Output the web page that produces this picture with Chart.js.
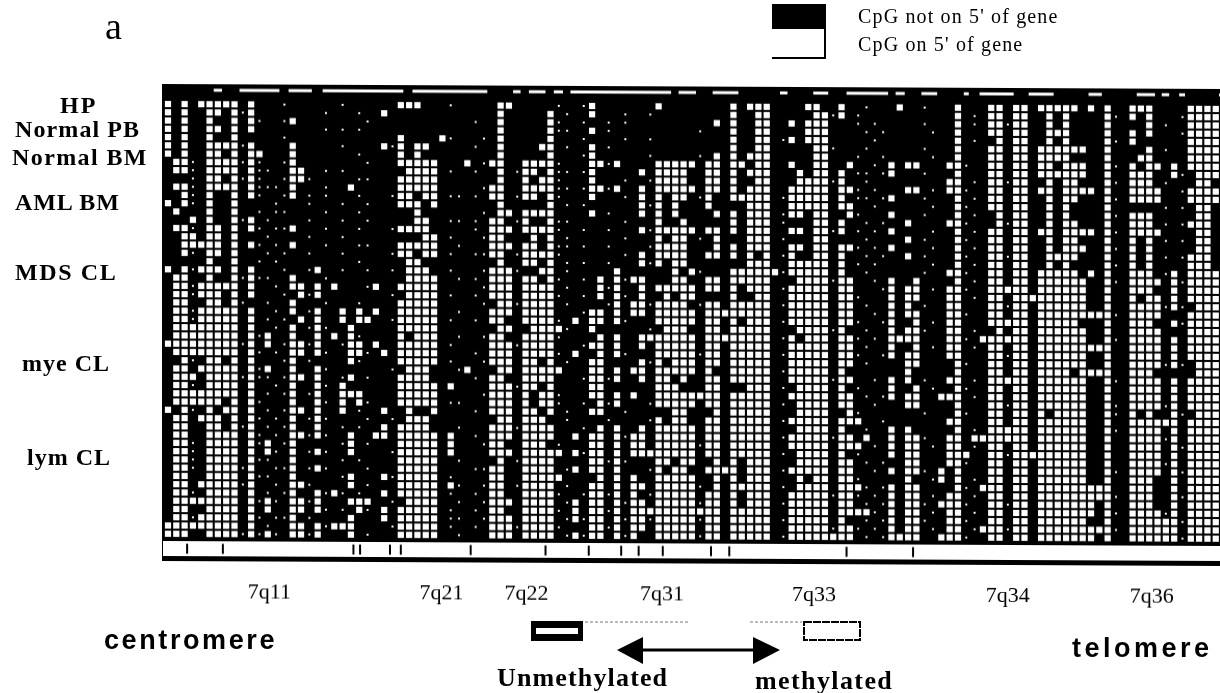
<!DOCTYPE html>
<html>
<head>
<meta charset="utf-8">
<title>7q CpG methylation map</title>
<script src="https://cdn.jsdelivr.net/npm/chart.js@4"></script>
<style>
  html, body { margin: 0; background: #fff; }
  #page { position: relative; width: 1220px; height: 693px; overflow: hidden; font-family: "Liberation Serif", serif; color: #000; }
  #map { position: absolute; left: 0; top: 0; transform-origin: 162px 84px; transform: skewY(0.27deg); }
  .t { position: absolute; white-space: nowrap; line-height: 1; }
  .row-label { font-weight: bold; font-size: 24px; }
  .sans { font-family: "Liberation Sans", sans-serif; font-weight: bold; font-size: 27px; letter-spacing: 2.6px; }
  .sw { position: absolute; box-sizing: border-box; }
</style>
</head>
<body>
<div id="page">
  <!-- 9px wider than the page: the x axis keeps that much room for its last label -->
  <canvas id="map" width="1229" height="693"></canvas>

  <span class="t" style="left:105px;top:7px;font-size:38px">a</span>
  <div class="sw" style="left:772px;top:4px;width:54px;height:25px;background:#000"></div>
  <div class="sw" style="left:772px;top:29px;width:54px;height:30px;border-right:2px solid #000;border-bottom:2px solid #000"></div>
  <span class="t" style="left:858px;top:6px;font-size:20px;letter-spacing:1.15px">CpG not on 5' of gene</span>
  <span class="t" style="left:858px;top:34px;font-size:20px;letter-spacing:1.15px">CpG on 5' of gene</span>

  <span class="t row-label" style="left:60px;top:93px;letter-spacing:2px">HP</span>
  <span class="t row-label" style="left:15px;top:117px;letter-spacing:1.1px">Normal PB</span>
  <span class="t row-label" style="left:12px;top:145px;letter-spacing:1.4px">Normal BM</span>
  <span class="t row-label" style="left:15px;top:190px;letter-spacing:.9px">AML BM</span>
  <span class="t row-label" style="left:15px;top:260px;letter-spacing:1.6px">MDS CL</span>
  <span class="t row-label" style="left:22px;top:351px;letter-spacing:1px">mye CL</span>
  <span class="t row-label" style="left:27px;top:445px;letter-spacing:1px">lym CL</span>

  <span class="t sans" style="left:104px;top:627px">centromere</span>
  <span class="t sans" style="left:1072px;top:635px;letter-spacing:3.5px">telomere</span>

  <svg style="position:absolute;left:520px;top:610px" width="360" height="60">
    <rect x="11" y="11" width="52" height="20" fill="#000"/>
    <rect x="16" y="18" width="42" height="6" fill="#fff"/>
    <line x1="65" y1="12" x2="170" y2="12" stroke="#777" stroke-width="1" stroke-dasharray="3 2"/>
    <line x1="230" y1="12" x2="282" y2="12" stroke="#777" stroke-width="1" stroke-dasharray="3 2"/>
    <rect x="284" y="12" width="56" height="18" fill="none" stroke="#000" stroke-width="2" stroke-dasharray="8 1"/>
    <line x1="120" y1="40" x2="235" y2="40" stroke="#000" stroke-width="3"/>
    <path d="M97 40 L123 27 L123 54 Z" fill="#000"/>
    <path d="M260 40 L233 27 L233 54 Z" fill="#000"/>
  </svg>
  <span class="t" style="left:497px;top:665px;font-size:26px;font-weight:bold;letter-spacing:1.15px">Unmethylated</span>
  <span class="t" style="left:755px;top:668px;font-size:26px;font-weight:bold;letter-spacing:1.4px">methylated</span>
</div>

<script>
// white cells per row: column numbers, "a-b" is a run of columns
const hpRows = [
  "0 2 4-8 10 28-30 40 41 51 59 68 70-72 77 78 81 88 95 99 100 102 103 105-109 111 113 116-118 123-126",
];
const normalPbRows = [
  "0 2 5 6 8 10 26 40 46 51 68 71 72 78 79 81 95 99 100 102 103 106 108 113 116 118 123-126",
  "0 2 5 8 10 15 40 46 66 68 71 72 75 77-79 95 99 100 102 103 106 108 113 118 123-126",
  "0 2 5 6 8 10 40 46 51 68 71 72 77-79 95 99 100 102 103 106-108 113 116 118 123-126",
];
const normalBmRows = [
  "0 2 5 8 28 33 40 46 68 71 72 75 77-79 95 100 102 103 106 108 113 116 123-126",
  "0 2 5-8 10 15 26 28 30 31 40 45 46 51 68 71 72 78 79 95 99 100 102 103 105-110 113 118 123-126",
  "0 2 5 6 8 10 11 15 28 30 40 46 51 66 68 70-72 78 79 95 99 100 102 103 105-108 113 117 118 123-126",
];
const amlRows = [
  "1 2 5-8 10 15 28-32 36 39 40 43-46 51 52 54 59-63 65 66 68 69 71 72 75 78 79 82 87 89 90 94 95 99 100 102 103 105 106 108-110 113 116 118 119 121 123-126",
  "1 2 5-8 10 15 16 29-32 40 43 44 46 51 57 59-62 65 66 68 70-72 76 78 79 81 87 95 99 100 102 103 105-110 113 116-118 121 124-126",
  "5 6 8 10 15 16 28-32 40 43 45 46 51 59-62 65 66 68 71 72 76-79 81 94 95 99 100 102 103 106 108 109 113 116-118 124 125",
  "1 2 5-8 10 15 22 28-32 39 40 43-46 51 52 54 57 59-63 65 66 68 70-72 75-79 81 82 89 90 94 95 99 100 102 103 105 106 108-111 113 116-119 123-126",
  "2 5 8 10 15 28 29 31 32 39 40 43 44 46 51 57 59 61 62 65 68-72 75-79 81 87 95 99 100 102 103 106 108 109 113 116-119 123-126",
  "0 2 5 8 28-30 32 40 46 57 59 61 65 70-72 75-79 81 82 95 99 100 102 103 106 108 113 124 125",
  "1 5 8 30 40 41 43-46 51 57 59 61 66 68 70-72 75 76 78 79 82 87 95 100 102 103 106 108 113 116-118 124 125",
  "3 5 8 10 30 31 39 40 43 46 59 62 68 70-72 78 79 81 89 94 95 100 102 103 106 108 109 113 116-118 123-125",
  "1 2 5 6 8 10 15 28-31 39-41 43-46 57 59-63 65 66 68 70-72 75 76 78 79 81 87 95 99 100 102 103 105 106 108-111 113 116-119 124 125",
  "2 3 5 6 8 31 32 39 40 44 46 59 61 62 66 70-72 78 79 89 95 99 100 102 103 106 108 109 113 116 118 124 125",
  "2-6 8 10 15 28-32 39-41 43 44 46 59-62 66 68 70-72 75 76 78 79 81 82 87 95 99 100 102 103 106 108-110 113 116 118 124 125",
  "2 5 6 8 28 29 31 32 39 40 43-46 57 59-62 65 66 68 70 72 75 78 79 81 89 95 99 100 102 103 106-109 113 116 118 123-125",
  "5 8 29 30 40 43 44 46 57 59 61 62 70-72 75-79 81 95 99 100 102 103 106 108 113 116 118 123-125",
];
const mdsRows = [
  "0 2 4-6 8 10 18 29-31 39-41 45 46 54 61 63 68-73 75-79 81 94 95 99 100 102 103 105-109 111 113 116-118 121 123-126",
  "1 2 5 8 10 15 29-32 39-41 43 44 46 52 54 56 57 61 62 65 66 68-72 76-79 81 82 87 90 95 99 100 102 103 105-110 113 116-119 121 123-126",
  "1 2 4-8 10 15 16 18 20 25 28-32 39-41 43-46 52 54 57 59-63 65 66 68 70-72 75-79 81 82 87 89 90 94 95 99-103 105-110 113 116-118 121 123-126",
  "1 2 4-6 8 10 16 18 29-32 39-41 43-46 52 54 57 60 62 63 68 71 72 75-79 81 82 87 89 90 94 95 99 100 102-110 113 116 118 119 121 123-126",
  "1 2 5 6 8 15 28-32 40 41 43-46 54 56 57 59-62 65 66 68-72 75-79 81 82 87 89 94 95 99 100 102 103 105-110 113 116-119 121 124-126",
  "1 2 4-8 10 15 18 21 23 25 28-32 39-41 43-46 51 52 54 56 57 59-63 65-72 75-79 81 82 87 89 90 94 95 99 100 102 103 105-113 116-119 123-126",
  "1 2 4-8 10 16 18 21 23 24 28-32 39 40 43-46 49 51 52 54 59-63 65 66 68 70-72 75-79 81 82 87 90 94 95 99-103 105-109 113 116-118 121 123-126",
  "1-8 10 15 18 22 28-32 40 41 44-47 51 60-62 65 66 68-72 76-79 81 87 89 90 94 95 100 102 103 105-110 113 116-119 123-126",
];
const myeRows = [
  "1-8 10 12 15 18 20 22 28 30-32 39 40 43-46 52 54 57-63 65-72 75 77-79 81 82 87-90 94 95 98-103 105-110 113 116-119 121 123-126",
  "0-8 10 12 15 16 18 22 23 25 28-32 39-41 43-46 51 52 54 57 59-63 65 66 68-72 75-79 81 82 87 90 94 95 99 100 102 103 105-113 116-119 121 123-126",
  "1-8 10 15 16 18 22 23 26 28-32 39-41 43-46 49 52 54 59-63 65 66 68-72 75-79 81 82 87 89 90 94 95 99 100 102 103 105-110 113 116-119 121 123-126",
  "2 5 6 8 10 15 22 28-32 39-41 43 44 46 51 52 57 59 61-63 65 66 68-72 75-79 81 82 89 90 95 99 100 102 103 105-110 113 116-119 121 124-126",
  "1 2 4-8 10 12 15 18 29-31 36 40 41 43-47 51 52 54 56 57 59-63 65 68-72 75-79 81 89 95 99 100 102 103 105-108 110-113 116-118 124-126",
  "1-3 5-8 10 15 16 18 22 28-31 39 40 43-46 51 52 54 57 59 60 62 65 66 68-72 75-79 81 82 87 89 94 95 99-103 105-110 113 116-119 121 123-126",
  "1 2 5-8 10 15 18 21 28-32 34 39-41 43 44 46 51 52 59-61 65 66 70-72 76-79 81 87 90 95 99 100 102 103 105-110 113 116-119 121 123-126",
  "1-8 10 15 18 21-23 28-32 39-41 43 45 46 51 52 54 56 59-66 68-72 75-79 81 82 87 89 90 93-95 99 100 102 103 105-110 113 116-119 121 123-126",
  "1-6 8 10 15 18 21 23 28-32 39-41 43 45 46 52 54 59-63 65 66 68-72 76-79 81 82 89 90 95 99 100 102 103 105-110 113 116-119 121 123-126",
  "0 2 5 7 8 10 15 16 18 21 26 29 32 39-41 43 44 46 51 52 61 62 66 68-72 76-79 82 95 99 100 102 103 105 107-110 113 116 118 121 124-126",
  "1 2 4-6 8 10 15 18 29-31 40 41 43-45 59 61 62 65 66 68-72 75-79 81-83 94 95 99 100 102 103 105-110 113 116-121 123-126",
];
const lymRows = [
  "1 2 5 6 8 10 15 18 26 28-31 39-41 43-46 52 54 57 59-63 65 66 68-72 76-79 81 87 89 95 99-103 105-110 113 116-119 121 123-126",
  "1 2 5-8 10 15 16 18 22 25 26 28-32 34 39-41 43-46 49 51 52 54 56 57 59-63 65 66 68-72 75-79 81 82 84 87 89 90 94 95 97-103 105-110 113 116-119 121 123-126",
  "1 2 5-8 10 12 15 22 28-32 34 39 40 43-45 51 52 54 56 57 59-63 65 66 68-72 75-79 81-83 87 89 90 94 95 99 100 102 103 105-110 113 116-119 121 123-126",
  "1 2 5-8 10 12 15 18 22 28-32 34 39-41 43-47 49 51 52 54 56-63 65 66 68-72 76-79 81 87 89 90 94-96 99 100 102-110 113 116-119 121 123-126",
  "1 2 5-8 10 15 28-32 40 43-46 51 52 54 59 60 62 63 66 68 70-72 76-79 81 82 89 90 94 95 99 100 102 103 105-110 113 116-119 121 123-126",
  "1 2 5-8 10 15 18 28-32 39 40 43-46 49 51 52 54 59 61 62 65-68 70-72 75-79 81 82 87 89 90 93 95 99 100 102 103 105-110 113 116-119 121 123-126",
  "1 2 5-8 10 15 22 26 28-32 39 40 43-47 52 54 56 59-63 66 68 70-72 76 78 79 81 82 89 93 95 99 100 102 103 105-110 113 116-118 121 123-126",
  "1 2 4-8 10 15 16 22 28-32 34 39 40 43-46 51 52 54 56 57 59-63 66 68-72 76-79 81-83 87 89 90 95 98-100 102 103 105-113 116-118 121 123-126",
  "1 2 5-8 10 15 18 20 26 28-32 39 40 43-46 51 52 54 56 59-63 65 66 68 70-72 75-79 81 82 87 89 90 94 95 99 100 102 103 105-113 116-118 121 123-126",
  "1-8 10 12 15 16 18 22-24 29-32 39-41 43-46 49 51 52 54 56 57 59-63 65 66 68 70-72 75-79 81 82 87 89 90 93-95 99 100 102 103 105-111 113 116-118 121 123-126",
  "1 2 5-8 10 12 15 16 18 23 26 28-32 39 40 43-46 49 51 52 54 56-66 68-72 75-79 81-84 87 89 90 94 95 99 100 102 103 105-111 113 116-119 121 123-126",
  "1 2 4-8 10 15 22 26 28-32 39-41 43-46 49 51 52 54 56 57 59-63 65 66 68-72 75-79 81 87 89 90 94 95 99 100 102 103 105-110 113 116-121 123-126",
  "0-8 10 15 16 18 20-22 28-32 39-41 43-46 51 52 54 56 57 59-63 65 66 68-72 75-79 81 82 87 89 90 94 95 98-100 102 103 105-113 116-121 123-126",
  "0-2 5-8 10 12 15 16 18 22 28-32 39-41 43-46 49 51 52 54 56 59-63 65 66 68-72 75-82 87-90 93-95 99 100 102 103 105-111 113 116-121 123-126",
];
// faint specks in the dark columns: column, then the rows it shows in
const speckColumns = [3, 9, 11, 12, 13, 14, 17, 19, 21, 23, 24, 27, 34, 35, 37, 38, 42, 47, 48, 50, 53, 55, 58, 64, 74, 80, 83, 84, 85, 86, 91, 92, 96, 97, 101, 114, 120, 122];
const speckRowsByColumn = [
  [7, 8, 9, 10, 11, 12, 15, 16, 17, 18, 20, 22, 23, 25, 26, 31, 33, 34, 37, 41, 42, 43, 44, 47, 50, 51],
  [1, 5, 7, 9, 14, 21, 24, 29, 33, 39, 44, 46, 52],
  [2, 7, 8, 9, 10, 11, 13, 15, 17, 19, 21, 28, 30, 32, 33, 36, 38, 40, 41, 43, 45, 48, 50, 52],
  [8, 10, 14, 16, 18, 21, 24, 26, 33, 35, 37, 39, 43, 45, 47, 49, 51],
  [10, 12, 13, 15, 17, 19, 22, 25, 27, 30, 34, 38, 40, 42, 44, 46, 48, 50, 52],
  [0, 2, 4, 7, 9, 11, 13, 15, 18, 20, 23, 26, 29, 31, 33, 35, 37, 39, 41, 44, 47, 50],
  [9, 11, 12, 14, 16, 18, 20, 23, 25, 27, 29, 31, 35, 38, 40, 42, 44, 46, 48, 50, 52],
  [1, 3, 8, 10, 11, 13, 15, 17, 21, 24, 27, 30, 32, 34, 36, 38, 40, 42, 44, 47, 49, 51],
  [0, 3, 5, 8, 12, 14, 16, 18, 20, 29, 33, 37, 39, 41, 43, 45, 47, 49],
  [1, 3, 6, 9, 11, 13, 15, 17, 19, 24, 28, 31, 37, 39, 43, 47],
  [2, 7, 9, 12, 14, 17, 20, 22, 30, 33, 36, 38, 41, 44, 46, 49, 52],
  [5, 11, 15, 18, 20, 23, 26, 32, 38, 42, 45, 48, 51],
  [0, 4, 8, 11, 14, 16, 18, 20, 23, 26, 29, 31, 36, 45, 47, 49, 50, 51],
  [11, 14, 17, 21, 25, 28, 32, 36, 39, 43, 46, 48, 50, 52],
  [2, 5, 8, 11, 14, 15, 18, 21, 23, 26, 30, 33, 37, 40, 44, 47, 49, 51],
  [4, 7, 10, 13, 16, 18, 20, 22, 24, 28, 31, 35, 41, 44, 46, 48, 50],
  [8, 11, 14, 18, 20, 24, 29, 34, 39, 43, 46, 51],
  [0, 2, 3, 7, 8, 9, 10, 11, 14, 15, 17, 18, 21, 23, 26, 28, 30, 35, 36, 41, 45, 47, 49, 51],
  [1, 3, 5, 8, 10, 12, 14, 16, 17, 19, 20, 22, 24, 27, 31, 37, 38, 44, 46, 48, 50, 52],
  [0, 2, 4, 6, 8, 10, 12, 15, 17, 19, 21, 23, 25, 29, 33, 36, 39, 42, 47, 50, 52],
  [2, 3, 5, 7, 10, 13, 15, 17, 19, 22, 24, 33, 36, 38, 43, 47, 49, 51],
  [1, 2, 4, 9, 11, 14, 16, 18, 21, 23, 26, 30, 37, 40, 43, 48, 50, 52],
  [1, 4, 6, 9, 12, 15, 17, 19, 24, 27, 31, 36, 38, 44, 47, 50],
  [3, 6, 11, 16, 20, 24, 30, 35, 41, 46, 48, 50, 52],
  [4, 11, 13, 14, 16, 18, 20, 22, 24, 26, 28, 30, 32, 34, 36, 38, 40, 42, 44, 46, 48, 50, 52],
  [1, 5, 9, 15, 21, 27, 33, 40, 47, 51],
  [1, 2, 6, 8, 10, 11, 13, 15, 17, 19, 23, 26, 28, 30, 34, 37, 42, 45, 47, 49, 51],
  [0, 3, 5, 8, 9, 11, 14, 16, 18, 20, 24, 27, 29, 31, 35, 39, 43, 46, 48, 50, 52],
  [2, 4, 7, 10, 12, 15, 17, 19, 21, 25, 28, 33, 36, 41, 44, 47, 49, 51],
  [3, 6, 8, 11, 14, 18, 22, 26, 30, 35, 38, 43, 46, 48, 50, 52],
  [0, 2, 5, 8, 11, 13, 16, 18, 20, 24, 27, 33, 37, 40, 44, 48, 50],
  [3, 6, 10, 12, 15, 17, 19, 22, 26, 29, 34, 41, 45, 47, 49, 51],
  [7, 10, 12, 14, 16, 18, 20, 22, 25, 28, 31, 34, 37, 43, 46, 48, 50, 52],
  [1, 2, 4, 9, 11, 13, 15, 17, 19, 21, 23, 27, 29, 33, 35, 39, 41, 45, 47, 49, 51],
  [2, 9, 14, 18, 24, 30, 36, 42, 48, 51],
  [1, 4, 7, 9, 11, 13, 15, 17, 19, 21, 25, 28, 33, 36, 37, 39, 44, 47, 49, 51],
  [2, 5, 9, 12, 14, 16, 18, 20, 24, 31, 36, 40, 43, 49, 52],
  [1, 3, 8, 10, 12, 14, 16, 18, 21, 24, 26, 31, 37, 41, 44, 47, 50, 52],
];
// white dashes along the top strip, column ranges
const headerRuns = [[5.5, 6.5], [8.6, 13.4], [14.5, 17.3], [18.6, 28.3], [29.4, 38.4], [41.5, 42.4], [43.4, 45.4], [46.4, 47.5], [48.4, 60.5], [61.4, 63.5], [65.5, 68.6], [73.6, 74.5], [77.6, 79.4], [81.6, 86.6], [87.5, 88.6], [90.6, 92.5], [95.7, 96.3], [97.6, 101.7], [103.5, 106.5], [110.7, 112.3], [116.5, 118.7], [119.5, 120.4], [121.6, 122.3], [126.4, 126.7]];
// dark marks on the white chromosome strip
const bandMarks = [2.3, 6.6, 22.3, 23.1, 26.7, 28, 36.4, 45.4, 50.6, 54.5, 56.6, 59.5, 65.3, 67.5, 81.6, 89.6];
const bandNames = ["7q11", "7q21", "7q22", "7q31", "7q33", "7q34", "7q36"];
const bandColumns = [12.2, 32.9, 43.1, 59.4, 77.7, 101, 118.3];

const allRows = [...hpRows, ...normalPbRows, ...normalBmRows, ...amlRows, ...mdsRows, ...myeRows, ...lymRows];

function parseRow(text) {
  const cols = [];
  text.split(" ").forEach((part) => {
    const [a, b] = part.split("-").map(Number);
    for (let c = a; c <= (b === undefined ? a : b); c++) cols.push(c);
  });
  return cols;
}

const cellPoints = [];
allRows.forEach((text, row) => {
  parseRow(text).forEach((col) => cellPoints.push({ x: col, y: row }));
});

const speckPoints = [];
speckColumns.forEach((col, i) => {
  speckRowsByColumn[i].forEach((row) => speckPoints.push({ x: col, y: row }));
});

const headerPoints = [];
headerRuns.forEach(([a, b]) => {
  headerPoints.push({ x: a, y: -1.7 }, { x: b, y: -1.7 }, { x: null, y: null });
});

const blackArea = {
  id: "blackArea",
  beforeDatasetsDraw(chart) {
    const { ctx, chartArea: a } = chart;
    ctx.save();
    ctx.fillStyle = "#000";
    ctx.fillRect(a.left, a.top, a.right - a.left, a.bottom - a.top);
    ctx.restore();
  },
};

new Chart(document.getElementById("map"), {
  type: "scatter",
  plugins: [blackArea],
  data: {
    datasets: [
      {
        label: "CpG on 5' of gene",
        data: cellPoints,
        pointStyle: "rect",
        pointRadius: 4.4,
        pointBorderWidth: 0,
        backgroundColor: "#fff",
      },
      {
        label: "specks",
        data: speckPoints,
        pointStyle: "rect",
        pointRadius: 1.4,
        pointBorderWidth: 0,
        backgroundColor: "#fff",
      },
      {
        label: "top strip",
        data: headerPoints,
        showLine: true,
        spanGaps: false,
        pointRadius: 0,
        borderColor: "#fff",
        borderWidth: 3,
      },
      {
        label: "band marks",
        data: bandMarks.map((c) => ({ x: c, y: 53.8 })),
        pointStyle: "line",
        pointRotation: 90,
        pointRadius: 5,
        pointBorderWidth: 2,
        pointBorderColor: "#000",
        order: 0,
      },
      {
        label: "chromosome",
        data: [{ x: -0.6, y: 53.8 }, { x: 126.75, y: 53.8 }],
        showLine: true,
        pointRadius: 0,
        borderColor: "#fff",
        borderWidth: 15,
        order: 1,
      },
    ],
  },
  options: {
    responsive: false,
    animation: false,
    devicePixelRatio: 1,
    layout: { padding: { left: 162, top: 84, right: 0, bottom: 0 } },
    plugins: { legend: { display: false }, tooltip: { enabled: false } },
    scales: {
      x: {
        type: "linear",
        min: -0.72,
        max: 126.75,
        grid: { display: false, drawTicks: false },
        border: { display: false },
        afterFit: (s) => { s.height = 132; },
        afterBuildTicks: (s) => { s.ticks = bandColumns.map((v) => ({ value: v })); },
        ticks: {
          autoSkip: false,
          maxRotation: 0,
          padding: 18,
          color: "#000",
          font: { family: "'Liberation Serif', serif", size: 22 },
          callback: (v) => bandNames[bandColumns.indexOf(v)],
        },
      },
      y: {
        type: "linear",
        reverse: true,
        min: -2.42,
        max: 55.3,
        display: false,
      },
    },
  },
});
</script>
</body>
</html>
